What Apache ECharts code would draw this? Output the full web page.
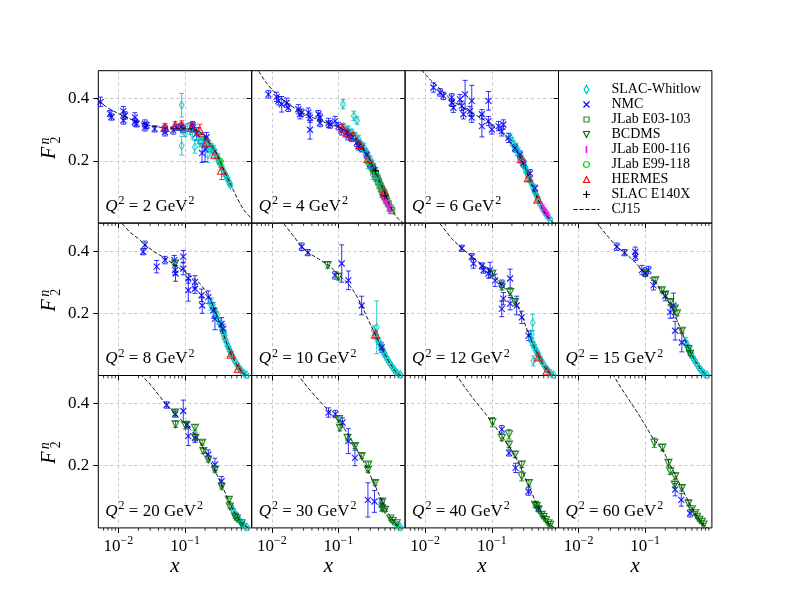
<!DOCTYPE html>
<html>
<head>
<meta charset="utf-8">
<title>F2n vs x</title>
<script src="https://cdn.jsdelivr.net/npm/echarts@6/dist/echarts.min.js"></script>
<style>
  html, body { margin: 0; padding: 0; background: #fff; }
  #chart { width: 790px; height: 593px; }
</style>
</head>
<body>
<div id="chart"></div>
<script>
// panels in reading order, slot 3 (top right) holds the legend
var q2List = [2, 4, 6, 8, 10, 12, 15, 20, 30, 40, 60];
var panelSlot = [0, 1, 2, 4, 5, 6, 7, 8, 9, 10, 11];
var xMajorTicks = [0.01, 0.1];
var xMinorTicks = [0.006, 0.007, 0.008, 0.009, 0.02, 0.03, 0.04, 0.05, 0.06, 0.07, 0.08, 0.09,
  0.2, 0.3, 0.4, 0.5, 0.6, 0.7, 0.8, 0.9];
var yMajorTicks = [0.2, 0.4];

// data rows: [Q2, x, F2n, error]
var slacWhitlow = [
  [2,0.089,0.379,0.038],[2,0.089,0.249,0.03],[2,0.09,0.3,0.01],[2,0.1,0.29,0.012],[2,0.11,0.31,0.01],
  [2,0.12,0.3,0.015],[2,0.13,0.285,0.015],[2,0.14,0.245,0.02],[2,0.15,0.295,0.012],[2,0.16,0.27,0.015],
  [2,0.167,0.26,0.015],[2,0.18,0.28,0.01],[2,0.19,0.258,0.012],[2,0.2,0.27,0.01],[2,0.21,0.25,0.012],
  [2,0.22,0.22,0.025],[2,0.23,0.255,0.01],[2,0.24,0.24,0.012],[2,0.25,0.245,0.01],[2,0.26,0.232,0.01],
  [2,0.27,0.238,0.012],[2,0.28,0.225,0.008],[2,0.3,0.215,0.008],[2,0.31,0.212,0.01],[2,0.32,0.2,0.008],
  [2,0.33,0.198,0.01],[2,0.34,0.188,0.008],[2,0.36,0.178,0.008],[2,0.38,0.166,0.007],[2,0.4,0.157,0.007],
  [2,0.42,0.148,0.007],[2,0.44,0.14,0.006],[2,0.46,0.13,0.006],[2,0.48,0.122,0.006],
  [4,0.117,0.382,0.015],[4,0.17,0.345,0.015],[4,0.19,0.33,0.012],[4,0.12,0.31,0.01],[4,0.13,0.298,0.01],
  [4,0.14,0.3,0.012],[4,0.15,0.285,0.01],[4,0.16,0.29,0.012],[4,0.17,0.275,0.01],[4,0.18,0.28,0.01],
  [4,0.19,0.265,0.01],[4,0.2,0.27,0.012],[4,0.21,0.255,0.01],[4,0.22,0.25,0.01],[4,0.23,0.24,0.01],
  [4,0.24,0.245,0.012],[4,0.25,0.228,0.01],[4,0.26,0.23,0.01],[4,0.27,0.215,0.012],[4,0.28,0.215,0.01],
  [4,0.29,0.2,0.01],[4,0.3,0.205,0.01],[4,0.31,0.19,0.01],[4,0.32,0.19,0.012],[4,0.33,0.175,0.01],
  [4,0.34,0.18,0.012],[4,0.35,0.168,0.01],[4,0.37,0.16,0.01],[4,0.39,0.145,0.01],[4,0.41,0.138,0.008],
  [4,0.43,0.125,0.008],[4,0.45,0.118,0.008],[4,0.47,0.108,0.007],[4,0.5,0.098,0.007],[4,0.53,0.085,0.006],
  [4,0.28,0.19,0.015],[4,0.33,0.155,0.015],[4,0.36,0.145,0.012],
  [6,0.19,0.275,0.012],[6,0.2,0.262,0.012],[6,0.21,0.255,0.01],[6,0.22,0.24,0.01],[6,0.23,0.245,0.012],
  [6,0.24,0.228,0.01],[6,0.25,0.23,0.012],[6,0.26,0.215,0.01],[6,0.27,0.212,0.01],[6,0.28,0.2,0.01],
  [6,0.29,0.2,0.01],[6,0.3,0.188,0.01],[6,0.31,0.185,0.01],[6,0.32,0.172,0.01],[6,0.33,0.17,0.01],
  [6,0.34,0.158,0.01],[6,0.35,0.155,0.01],[6,0.37,0.14,0.01],[6,0.39,0.13,0.008],[6,0.41,0.118,0.008],
  [6,0.43,0.105,0.008],[6,0.45,0.097,0.007],[6,0.47,0.088,0.007],[6,0.5,0.075,0.006],[6,0.53,0.062,0.006],
  [6,0.56,0.052,0.005],[6,0.6,0.04,0.005],[6,0.65,0.028,0.004],[6,0.7,0.02,0.004],[6,0.75,0.012,0.003],
  [8,0.24,0.23,0.02],[8,0.25,0.232,0.015],[8,0.27,0.215,0.012],[8,0.29,0.2,0.012],[8,0.3,0.195,0.01],
  [8,0.32,0.175,0.01],[8,0.34,0.165,0.01],[8,0.35,0.16,0.012],[8,0.36,0.145,0.01],[8,0.38,0.128,0.012],
  [8,0.39,0.135,0.012],[8,0.4,0.118,0.01],[8,0.42,0.105,0.01],[8,0.44,0.094,0.008],[8,0.46,0.085,0.008],
  [8,0.48,0.075,0.008],[8,0.5,0.068,0.007],[8,0.53,0.056,0.006],[8,0.56,0.046,0.006],[8,0.6,0.036,0.005],
  [8,0.64,0.026,0.005],[8,0.68,0.018,0.004],[8,0.72,0.012,0.004],[8,0.78,0.006,0.003],[8,0.85,0.002,0.002],
  [10,0.375,0.155,0.085],[10,0.34,0.145,0.015],[10,0.36,0.13,0.012],[10,0.38,0.12,0.012],[10,0.4,0.11,0.01],
  [10,0.42,0.1,0.01],[10,0.44,0.09,0.01],[10,0.46,0.082,0.008],[10,0.48,0.074,0.008],[10,0.5,0.066,0.007],
  [10,0.53,0.056,0.006],[10,0.56,0.047,0.006],[10,0.6,0.037,0.005],[10,0.64,0.028,0.005],[10,0.68,0.02,0.004],
  [10,0.72,0.013,0.004],[10,0.78,0.007,0.003],[10,0.85,0.003,0.002],
  [12,0.41,0.17,0.027],[12,0.397,0.133,0.012],[12,0.42,0.047,0.016],[12,0.38,0.12,0.012],[12,0.4,0.108,0.012],
  [12,0.42,0.098,0.01],[12,0.44,0.09,0.01],[12,0.46,0.08,0.008],[12,0.48,0.073,0.008],[12,0.5,0.065,0.007],
  [12,0.53,0.055,0.006],[12,0.56,0.045,0.006],[12,0.6,0.035,0.005],[12,0.64,0.026,0.005],[12,0.68,0.018,0.004],
  [12,0.72,0.012,0.004],[12,0.78,0.006,0.003],[12,0.85,0.002,0.002],
  [15,0.4,0.11,0.012],[15,0.42,0.1,0.01],[15,0.44,0.09,0.01],[15,0.46,0.08,0.01],[15,0.48,0.072,0.008],
  [15,0.5,0.064,0.008],[15,0.53,0.054,0.006],[15,0.56,0.045,0.006],[15,0.6,0.035,0.005],[15,0.64,0.026,0.005],
  [15,0.68,0.018,0.004],[15,0.72,0.012,0.004],[15,0.78,0.006,0.003],[15,0.85,0.002,0.002],
  [20,0.5,0.066,0.006],[20,0.53,0.056,0.006],[20,0.56,0.046,0.005],[20,0.6,0.036,0.005],[20,0.64,0.027,0.004],
  [20,0.68,0.019,0.004],[20,0.72,0.012,0.003],[20,0.78,0.007,0.003],[20,0.85,0.003,0.002],
  [30,0.72,0.013,0.003],[30,0.78,0.007,0.003],[30,0.85,0.003,0.002]
];
var nmc = [
  [2,0.0054,0.39,0.015],[2,0.0075,0.352,0.01],[2,0.0079,0.341,0.01],[2,0.0119,0.36,0.015],[2,0.0119,0.33,0.012],
  [2,0.0126,0.346,0.012],[2,0.0177,0.34,0.015],[2,0.0177,0.325,0.012],[2,0.0188,0.319,0.01],[2,0.025,0.32,0.012],
  [2,0.025,0.308,0.012],[2,0.0265,0.314,0.01],[2,0.035,0.303,0.01],[2,0.05,0.303,0.012],[2,0.05,0.292,0.012],
  [2,0.0666,0.298,0.012],[2,0.0748,0.308,0.01],[2,0.088,0.31,0.012],[2,0.094,0.303,0.012],[2,0.13,0.315,0.012],
  [2,0.133,0.308,0.01],[2,0.149,0.287,0.02],[2,0.18,0.225,0.03],[2,0.2,0.238,0.04],[2,0.21,0.276,0.015],
  [4,0.0089,0.414,0.012],[4,0.0118,0.406,0.015],[4,0.0126,0.393,0.013],[4,0.0141,0.382,0.025],[4,0.0167,0.387,0.015],
  [4,0.0177,0.371,0.012],[4,0.025,0.366,0.015],[4,0.0265,0.35,0.015],[4,0.028,0.355,0.012],[4,0.0354,0.355,0.015],
  [4,0.0375,0.339,0.015],[4,0.0375,0.3,0.03],[4,0.05,0.35,0.012],[4,0.053,0.339,0.012],[4,0.053,0.322,0.012],
  [4,0.071,0.322,0.015],[4,0.075,0.317,0.012],[4,0.089,0.328,0.015],[4,0.1,0.312,0.012],[4,0.112,0.295,0.012],
  [4,0.133,0.29,0.012],[4,0.141,0.279,0.012],[4,0.158,0.274,0.012],[4,0.188,0.258,0.012],[4,0.2,0.247,0.012],
  [4,0.223,0.241,0.012],[4,0.265,0.22,0.012],[4,0.3,0.19,0.012],[4,0.33,0.175,0.01],
  [6,0.0133,0.436,0.015],[6,0.0167,0.42,0.012],[6,0.0188,0.409,0.012],[6,0.025,0.404,0.012],[6,0.025,0.387,0.012],
  [6,0.0265,0.371,0.015],[6,0.0333,0.398,0.015],[6,0.0354,0.377,0.015],[6,0.0375,0.35,0.015],[6,0.0397,0.414,0.045],
  [6,0.047,0.36,0.015],[6,0.05,0.393,0.05],[6,0.05,0.339,0.015],[6,0.071,0.35,0.015],[6,0.071,0.312,0.035],
  [6,0.089,0.393,0.03],[6,0.089,0.328,0.015],[6,0.1,0.301,0.015],[6,0.126,0.312,0.015],[6,0.141,0.295,0.015],
  [6,0.149,0.317,0.015],[6,0.177,0.274,0.015],[6,0.223,0.241,0.012],[6,0.265,0.22,0.012],[6,0.297,0.193,0.012],
  [6,0.375,0.16,0.012],[6,0.445,0.112,0.01],
  [8,0.025,0.42,0.012],[8,0.0236,0.398,0.01],[8,0.0375,0.35,0.02],[8,0.05,0.371,0.012],[8,0.069,0.371,0.015],
  [8,0.071,0.339,0.015],[8,0.072,0.328,0.025],[8,0.094,0.382,0.02],[8,0.094,0.344,0.02],[8,0.112,0.312,0.015],
  [8,0.112,0.274,0.035],[8,0.141,0.301,0.02],[8,0.141,0.279,0.015],[8,0.177,0.258,0.02],[8,0.181,0.225,0.025],
  [8,0.223,0.252,0.02],[8,0.265,0.209,0.025],[8,0.281,0.182,0.035],[8,0.354,0.166,0.02],[8,0.375,0.15,0.015],
  [10,0.0281,0.414,0.012],[10,0.0347,0.395,0.01],[10,0.089,0.322,0.012],[10,0.112,0.36,0.06],[10,0.141,0.306,0.03],
  [10,0.223,0.225,0.03],[10,0.445,0.09,0.015],
  [12,0.0354,0.409,0.01],[12,0.05,0.382,0.01],[12,0.053,0.36,0.015],[12,0.071,0.352,0.01],[12,0.075,0.339,0.01],
  [12,0.089,0.328,0.015],[12,0.094,0.339,0.025],[12,0.112,0.306,0.02],[12,0.141,0.295,0.012],[12,0.141,0.214,0.025],
  [12,0.149,0.247,0.02],[12,0.188,0.312,0.03],[12,0.188,0.231,0.02],[12,0.236,0.225,0.03],[12,0.281,0.187,0.02],
  [12,0.354,0.128,0.015],
  [15,0.0375,0.414,0.012],[15,0.049,0.395,0.01],[15,0.071,0.398,0.015],[15,0.071,0.382,0.012],[15,0.089,0.339,0.015],
  [15,0.1,0.33,0.012],[15,0.112,0.339,0.012],[15,0.133,0.29,0.015],[15,0.2,0.255,0.015],[15,0.237,0.204,0.02],
  [15,0.265,0.225,0.04],[15,0.281,0.144,0.03],[15,0.354,0.106,0.03],
  [20,0.053,0.395,0.01],[20,0.071,0.366,0.01],[20,0.094,0.376,0.035],[20,0.108,0.333,0.01],[20,0.112,0.295,0.03],
  [20,0.141,0.29,0.015],[20,0.223,0.236,0.015],[20,0.281,0.204,0.02],[20,0.354,0.15,0.015],
  [30,0.071,0.371,0.015],[30,0.09,0.366,0.012],[30,0.115,0.339,0.015],[30,0.141,0.279,0.04],[30,0.177,0.225,0.025],
  [30,0.277,0.09,0.055],[30,0.347,0.085,0.035],[30,0.445,0.074,0.02],
  [40,0.141,0.317,0.012],[40,0.181,0.241,0.01],[40,0.227,0.193,0.015],[40,0.354,0.117,0.012],[40,0.5,0.063,0.008],
  [60,0.281,0.123,0.02],[60,0.347,0.09,0.02],[60,0.47,0.047,0.012]
];
var jlabE03103 = [
  [4,0.32,0.18,0.008],[4,0.34,0.168,0.008],[4,0.36,0.158,0.008],[4,0.38,0.145,0.007],[4,0.4,0.132,0.007],
  [4,0.42,0.12,0.007],[4,0.44,0.11,0.006],[4,0.46,0.1,0.006],[4,0.48,0.092,0.006],[4,0.5,0.085,0.005],
  [4,0.53,0.072,0.005],[4,0.56,0.062,0.005],[4,0.6,0.048,0.004],[4,0.63,0.04,0.004]
];
var bcdms = [
  [8,0.071,0.36,0.01],
  [10,0.069,0.355,0.01],[10,0.1,0.317,0.01],
  [12,0.102,0.328,0.008],[12,0.141,0.285,0.01],[12,0.188,0.268,0.01],[12,0.223,0.236,0.01],
  [15,0.1,0.328,0.008],[15,0.141,0.306,0.008],[15,0.177,0.274,0.008],[15,0.2,0.26,0.008],[15,0.237,0.236,0.008],
  [15,0.277,0.215,0.008],[15,0.3,0.2,0.008],[15,0.354,0.144,0.008],[15,0.445,0.085,0.006],[15,0.47,0.07,0.006],
  [20,0.071,0.371,0.01],[20,0.072,0.333,0.01],[20,0.102,0.328,0.01],[20,0.141,0.322,0.01],[20,0.143,0.29,0.01],
  [20,0.181,0.274,0.008],[20,0.188,0.247,0.008],[20,0.223,0.22,0.008],[20,0.281,0.187,0.008],[20,0.354,0.133,0.008],
  [20,0.455,0.09,0.006],[20,0.47,0.069,0.006],[20,0.562,0.036,0.005],[20,0.6,0.03,0.005],[20,0.707,0.015,0.004],
  [30,0.102,0.35,0.01],[30,0.105,0.322,0.01],[30,0.137,0.29,0.01],[30,0.177,0.263,0.008],[30,0.223,0.231,0.008],
  [30,0.281,0.204,0.008],[30,0.277,0.187,0.008],[30,0.354,0.144,0.008],[30,0.455,0.085,0.006],[30,0.455,0.063,0.006],
  [30,0.5,0.058,0.006],[30,0.6,0.03,0.005],[30,0.65,0.022,0.005],[30,0.75,0.015,0.004],
  [40,0.102,0.34,0.015],[40,0.141,0.29,0.01],[40,0.181,0.301,0.015],[40,0.181,0.268,0.01],[40,0.223,0.236,0.01],
  [40,0.281,0.204,0.01],[40,0.281,0.166,0.015],[40,0.36,0.144,0.01],[40,0.445,0.074,0.008],[40,0.47,0.07,0.006],
  [40,0.5,0.058,0.006],[40,0.562,0.042,0.006],[40,0.6,0.035,0.005],[40,0.65,0.025,0.005],[40,0.707,0.015,0.005],
  [40,0.75,0.01,0.004],
  [60,0.137,0.274,0.015],[60,0.181,0.258,0.01],[60,0.223,0.209,0.01],[60,0.237,0.182,0.01],[60,0.281,0.166,0.01],
  [60,0.277,0.139,0.01],[60,0.354,0.128,0.01],[60,0.445,0.079,0.008],[60,0.5,0.06,0.006],[60,0.562,0.047,0.006],
  [60,0.6,0.036,0.005],[60,0.65,0.026,0.005],[60,0.707,0.02,0.005],[60,0.75,0.011,0.004]
];
var jlabE00116 = [
  [4,0.45,0.09,0.008],[4,0.48,0.082,0.008],[4,0.5,0.076,0.007],[4,0.53,0.068,0.007],[4,0.56,0.058,0.006],
  [4,0.6,0.046,0.006],
  [6,0.58,0.05,0.008],[6,0.61,0.042,0.007],[6,0.64,0.036,0.007],[6,0.67,0.03,0.006],[6,0.7,0.024,0.006]
];
var jlabE99118 = [
  [2,0.335,0.198,0.01],[4,0.29,0.195,0.01]
];
var hermes = [
  [2,0.05,0.308,0.012],[2,0.071,0.314,0.012],[2,0.089,0.314,0.015],[2,0.126,0.308,0.015],[2,0.167,0.298,0.02],
  [2,0.21,0.26,0.015],[2,0.28,0.222,0.015],[2,0.353,0.17,0.03],
  [4,0.115,0.306,0.01],[4,0.135,0.29,0.01],[4,0.167,0.281,0.01],[4,0.21,0.252,0.01],[4,0.277,0.207,0.01],
  [4,0.49,0.1,0.008],
  [6,0.277,0.207,0.01],[6,0.354,0.146,0.01],[6,0.49,0.077,0.008],
  [8,0.49,0.069,0.008],[8,0.63,0.023,0.005],
  [10,0.36,0.133,0.01],
  [12,0.5,0.06,0.008],[12,0.67,0.015,0.005]
];
var slacE140X = [
  [4,0.36,0.168,0.01],[4,0.5,0.088,0.008]
];
// CJ15 curve rows: [Q2, x, F2n]
var cj15 = [
  [2,0.005,0.392],[2,0.007,0.37],[2,0.01,0.352],[2,0.015,0.335],[2,0.02,0.325],[2,0.03,0.313],[2,0.05,0.306],
  [2,0.07,0.305],[2,0.1,0.305],[2,0.13,0.302],[2,0.17,0.292],[2,0.21,0.27],[2,0.25,0.25],[2,0.3,0.222],
  [2,0.35,0.19],[2,0.42,0.152],[2,0.5,0.118],[2,0.6,0.082],[2,0.7,0.055],[2,0.8,0.036],[2,0.9,0.024],[2,1.0,0.016],
  [4,0.005,0.52],[4,0.0065,0.485],[4,0.008,0.455],[4,0.01,0.43],[4,0.013,0.405],[4,0.016,0.39],[4,0.02,0.375],
  [4,0.028,0.356],[4,0.04,0.34],[4,0.05,0.332],[4,0.07,0.32],[4,0.1,0.31],[4,0.13,0.297],[4,0.16,0.282],
  [4,0.2,0.262],[4,0.25,0.233],[4,0.3,0.2],[4,0.36,0.166],[4,0.42,0.132],[4,0.49,0.1],[4,0.56,0.07],
  [4,0.63,0.045],[4,0.7,0.028],[4,0.8,0.012],[4,0.9,0.003],[4,1.0,-0.005],
  [6,0.008,0.51],[6,0.0094,0.485],[6,0.012,0.46],[6,0.0141,0.447],[6,0.018,0.425],[6,0.025,0.395],[6,0.035,0.375],
  [6,0.045,0.36],[6,0.06,0.345],[6,0.08,0.33],[6,0.1,0.316],[6,0.125,0.3],[6,0.15,0.285],[6,0.18,0.265],
  [6,0.21,0.248],[6,0.25,0.222],[6,0.28,0.204],[6,0.32,0.177],[6,0.36,0.148],[6,0.42,0.11],[6,0.49,0.077],
  [6,0.56,0.05],[6,0.63,0.03],[6,0.7,0.018],[6,0.8,0.005],[6,0.9,-0.005],
  [8,0.009,0.52],[8,0.0112,0.49],[8,0.015,0.46],[8,0.02,0.44],[8,0.025,0.42],[8,0.035,0.397],[8,0.05,0.377],
  [8,0.07,0.355],[8,0.1,0.333],[8,0.13,0.315],[8,0.16,0.3],[8,0.2,0.275],[8,0.24,0.245],[8,0.28,0.21],
  [8,0.32,0.178],[8,0.36,0.145],[8,0.42,0.105],[8,0.49,0.07],[8,0.56,0.045],[8,0.63,0.026],[8,0.7,0.012],
  [8,0.8,0.002],[8,0.9,-0.005],
  [10,0.012,0.52],[10,0.0149,0.49],[10,0.02,0.455],[10,0.028,0.414],[10,0.0354,0.395],[10,0.05,0.375],
  [10,0.071,0.355],[10,0.1,0.325],[10,0.141,0.295],[10,0.177,0.265],[10,0.223,0.225],[10,0.281,0.178],
  [10,0.354,0.133],[10,0.445,0.088],[10,0.562,0.047],[10,0.707,0.015],[10,0.84,0.0],[10,0.95,-0.006],
  [12,0.013,0.52],[12,0.0164,0.49],[12,0.025,0.44],[12,0.0354,0.409],[12,0.05,0.382],[12,0.07,0.358],
  [12,0.102,0.328],[12,0.141,0.29],[12,0.188,0.263],[12,0.236,0.231],[12,0.281,0.195],[12,0.354,0.135],
  [12,0.446,0.085],[12,0.5,0.062],[12,0.562,0.042],[12,0.67,0.015],[12,0.84,0.0],[12,0.95,-0.006],
  [15,0.015,0.53],[15,0.0188,0.49],[15,0.028,0.445],[15,0.0375,0.414],[15,0.05,0.393],[15,0.07,0.365],
  [15,0.1,0.328],[15,0.141,0.3],[15,0.177,0.272],[15,0.237,0.23],[15,0.281,0.193],[15,0.354,0.14],
  [15,0.446,0.088],[15,0.562,0.046],[15,0.707,0.015],[15,0.84,0.0],[15,0.95,-0.006],
  [20,0.018,0.53],[20,0.0224,0.49],[20,0.03,0.462],[20,0.04,0.428],[20,0.053,0.395],[20,0.071,0.366],
  [20,0.102,0.333],[20,0.141,0.3],[20,0.188,0.258],[20,0.223,0.228],[20,0.281,0.185],[20,0.354,0.138],
  [20,0.446,0.09],[20,0.562,0.047],[20,0.707,0.015],[20,0.89,0.0],[20,0.95,-0.005],
  [30,0.02,0.53],[30,0.025,0.49],[30,0.035,0.45],[30,0.05,0.412],[30,0.071,0.377],[30,0.1,0.344],
  [30,0.141,0.3],[30,0.177,0.263],[30,0.223,0.225],[30,0.281,0.182],[30,0.354,0.137],[30,0.446,0.088],
  [30,0.562,0.046],[30,0.707,0.015],[30,0.84,0.0],[30,0.95,-0.006],
  [40,0.024,0.53],[40,0.0298,0.49],[40,0.04,0.45],[40,0.055,0.41],[40,0.075,0.375],[40,0.102,0.339],
  [40,0.141,0.295],[40,0.181,0.263],[40,0.223,0.231],[40,0.281,0.187],[40,0.36,0.133],[40,0.446,0.088],
  [40,0.562,0.046],[40,0.707,0.015],[40,0.87,0.0],[40,0.95,-0.004],
  [60,0.027,0.53],[60,0.0333,0.49],[60,0.045,0.445],[60,0.06,0.405],[60,0.079,0.366],[60,0.1,0.33],
  [60,0.133,0.285],[60,0.181,0.252],[60,0.223,0.214],[60,0.281,0.171],[60,0.354,0.128],[60,0.446,0.085],
  [60,0.562,0.046],[60,0.707,0.015],[60,0.84,0.0],[60,0.95,-0.005]
];

var SERIF = '"Liberation Serif", "DejaVu Serif", serif';
var colLeft = [98.3, 251.7, 405.1, 558.5], rowTop = [70.7, 223.1, 375.5];
var pw = 153.4, ph = 152.4;

// how each experiment is drawn
var sets = [
  {name: 'SLAC-Whitlow', rows: slacWhitlow, color: '#00bfbf', symbol: 'diamond', size: [5, 8], rotate: 0, fill: 'none', lw: 1,
    icon: 'M13,0L15.5,4L13,8L10.5,4Z'},
  {name: 'NMC', rows: nmc, color: '#0000ff', symbol: 'path://M0,0L10,10M10,0L0,10', size: 6, rotate: 0, fill: 'none', lw: 1.2,
    icon: 'M10,1L16,7M16,1L10,7'},
  {name: 'JLab E03-103', rows: jlabE03103, color: '#2e8b2e', symbol: 'rect', size: 6, rotate: 0, fill: 'none', lw: 1.1,
    icon: 'M10.5,1.5L15.5,1.5L15.5,6.5L10.5,6.5Z'},
  {name: 'BCDMS', rows: bcdms, color: '#007000', symbol: 'triangle', size: 7, rotate: 180, fill: 'none', lw: 1.1,
    icon: 'M10,1L16,1L13,7Z'},
  {name: 'JLab E00-116', rows: jlabE00116, color: '#ff00ff', symbol: 'rect', size: [1.4, 8], rotate: 0, fill: '#ff00ff', lw: 0,
    icon: 'M13,0.5L13,7.5'},
  {name: 'JLab E99-118', rows: jlabE99118, color: '#00e000', symbol: 'circle', size: 6, rotate: 0, fill: 'none', lw: 1.1,
    icon: 'M16,4A3,3,0,1,1,10,4A3,3,0,1,1,16,4Z'},
  {name: 'HERMES', rows: hermes, color: '#ff0000', symbol: 'triangle', size: 8, rotate: 0, fill: 'none', lw: 1.2,
    icon: 'M10,7L16,7L13,1Z'},
  {name: 'SLAC E140X', rows: slacE140X, color: '#000000', symbol: 'path://M5,0L5,10M0,5L10,5', size: 7, rotate: 0, fill: 'none', lw: 1.1,
    icon: 'M13,0.5L13,7.5M9.5,4L16.5,4'}
];
// keeps legend icons at marker size inside the 26x8 legend box
var ICON_BOX = 'M0,0L0.01,0M26,8L25.99,8';

function pick(rows, q) {
  return rows.filter(function (r) { return r[0] === q; }).map(function (r) { return r.slice(1); });
}

function errorBarItem(color) {
  return function (params, api) {
    var x = api.value(0), y = api.value(1), e = api.value(2);
    var hi = api.coord([x, y + e]), lo = api.coord([x, y - e]);
    var cap = 2.5;
    var st = {stroke: color, lineWidth: 1, opacity: 0.8};
    return {type: 'group', children: [
      {type: 'line', shape: {x1: hi[0], y1: hi[1], x2: lo[0], y2: lo[1]}, style: st},
      {type: 'line', shape: {x1: hi[0] - cap, y1: hi[1], x2: hi[0] + cap, y2: hi[1]}, style: st},
      {type: 'line', shape: {x1: lo[0] - cap, y1: lo[1], x2: lo[0] + cap, y2: lo[1]}, style: st}
    ]};
  };
}

function minorTickItem(params, api) {
  var p = api.coord([api.value(0), 0]);
  return {type: 'line', shape: {x1: p[0], y1: p[1], x2: p[0], y2: p[1] + 2.8},
    style: {stroke: '#000', lineWidth: 0.8}};
}

// base text sits at the bottom of a 20px line, exponents at its top
var supRich = {
  b: {fontFamily: SERIF, fontSize: 17, height: 17, lineHeight: 20, verticalAlign: 'bottom', color: '#000'},
  e: {fontFamily: SERIF, fontSize: 12, height: 12, lineHeight: 20, verticalAlign: 'top', color: '#000'}
};
var q2Rich = {
  i: {fontFamily: SERIF, fontStyle: 'italic', fontSize: 17, height: 17, lineHeight: 20, verticalAlign: 'bottom', fill: '#000'},
  b: {fontFamily: SERIF, fontSize: 17, height: 17, lineHeight: 20, verticalAlign: 'bottom', fill: '#000'},
  e: {fontFamily: SERIF, fontSize: 12, height: 12, lineHeight: 20, verticalAlign: 'top', padding: [0, 0, 0, 1], fill: '#000'}
};

var grids = [], xAxes = [], yAxes = [], series = [], graphics = [];

for (var s = 0; s < 12; s++) {
  var r = Math.floor(s / 4), c = s % 4, isLegendBox = (s === 3);
  grids.push({left: colLeft[c], top: rowTop[r], width: pw, height: ph, show: true,
    borderColor: '#000', borderWidth: 1, backgroundColor: 'transparent'});
  xAxes.push({
    type: 'log', gridIndex: s, min: 0.005, max: 1,
    axisLine: {show: false},
    axisTick: {show: true, length: 5, customValues: xMajorTicks, lineStyle: {color: '#000', width: 1}},
    axisLabel: {show: r === 2, customValues: xMajorTicks, margin: 7,
      formatter: function (v) { return '{b|10}{e|\u2212' + Math.round(-Math.log10(v)) + '}'; },
      rich: supRich},
    splitLine: {show: !isLegendBox, lineStyle: {color: '#b8b8b8', width: 0.8, type: [3, 3]}},
    name: r === 2 ? 'x' : '', nameLocation: 'middle', nameGap: 28,
    nameTextStyle: {fontFamily: SERIF, fontStyle: 'italic', fontSize: 21, color: '#000'}
  });
  yAxes.push({
    type: 'value', gridIndex: s, min: 0, max: 0.49, interval: 0.2,
    axisLine: {show: false},
    axisTick: {show: true, length: 5, customValues: yMajorTicks, lineStyle: {color: '#000', width: 1}},
    axisLabel: {show: c === 0, customValues: yMajorTicks, margin: 9,
      formatter: function (v) { return v.toFixed(1); },
      fontFamily: SERIF, fontSize: 17, color: '#000'},
    splitLine: {show: !isLegendBox, lineStyle: {color: '#b8b8b8', width: 0.8, type: [3, 3]}}
  });
  series.push({type: 'custom', name: 'minor ticks', xAxisIndex: s, yAxisIndex: s, silent: true,
    data: xMinorTicks.map(function (v) { return [v, 0]; }), renderItem: minorTickItem});
}

q2List.forEach(function (q, i) {
  var s = panelSlot[i];
  sets.forEach(function (d) {
    var pts = pick(d.rows, q);
    if (!pts.length) return;
    series.push({type: 'custom', name: d.name + ' error', xAxisIndex: s, yAxisIndex: s, clip: true, silent: true,
      data: pts, renderItem: errorBarItem(d.color)});
    series.push({type: 'scatter', name: d.name, xAxisIndex: s, yAxisIndex: s, silent: true,
      data: pts.map(function (p) { return [p[0], p[1]]; }),
      symbol: d.symbol, symbolSize: d.size, symbolRotate: d.rotate,
      itemStyle: {color: d.fill, borderColor: d.color, borderWidth: d.lw, opacity: 0.85}});
  });
  series.push({type: 'line', name: 'CJ15', xAxisIndex: s, yAxisIndex: s, silent: true, clip: true,
    data: pick(cj15, q), symbol: 'none', showSymbol: false,
    itemStyle: {color: 'rgba(0,0,0,0)', borderWidth: 0},
    lineStyle: {color: '#000', width: 0.9, type: [4, 2]}});

  var r = Math.floor(s / 4), c = s % 4;
  graphics.push({type: 'text', left: colLeft[c] + 7, top: rowTop[r] + ph - 28, silent: true,
    style: {text: '{i|Q}{e|2}{b| = ' + q + ' GeV}{e|2}', fill: '#000', rich: q2Rich}});
});

// F_2^n labels on the left of each row
for (var row = 0; row < 3; row++) {
  graphics.push({type: 'group', x: 50, y: rowTop[row] + ph / 2, rotation: Math.PI / 2, silent: true, children: [
    {type: 'text', x: -6, y: 0, style: {text: 'F', font: 'italic 20px ' + SERIF, fill: '#000', align: 'center', verticalAlign: 'middle'}},
    {type: 'text', x: 6, y: -5, style: {text: 'n', font: 'italic 14px ' + SERIF, fill: '#000', align: 'center', verticalAlign: 'middle'}},
    {type: 'text', x: 7, y: 6, style: {text: '2', font: '14px ' + SERIF, fill: '#000', align: 'center', verticalAlign: 'middle'}}
  ]});
}

var legendData = sets.map(function (d) {
  var bar = d.name === 'JLab E00-116';
  return {name: d.name, icon: 'path://' + ICON_BOX + d.icon,
    itemStyle: {color: bar ? 'none' : d.fill, borderColor: d.color, borderWidth: bar ? 1.6 : 1.2, opacity: 1}};
});
legendData.push({name: 'CJ15', icon: 'path://M0,4L4,4M6,4L10,4M12,4L16,4M18,4L22,4M24,4L26,4M0,0L0.01,0M26,8L25.99,8',
  itemStyle: {color: 'none', borderColor: '#000', borderWidth: 1, opacity: 1}});

var chart = echarts.init(document.getElementById('chart'), null, {renderer: 'canvas'});
chart.setOption({
  animation: false,
  backgroundColor: '#fff',
  grid: grids,
  xAxis: xAxes,
  yAxis: yAxes,
  legend: {
    left: 571, top: 82, orient: 'vertical', padding: 0, itemGap: 0, itemWidth: 26, itemHeight: 8,
    selectedMode: false, data: legendData,
    textStyle: {fontFamily: SERIF, fontSize: 14, lineHeight: 15, color: '#000', padding: [0, 0, 0, 7]}
  },
  graphic: graphics,
  series: series
});
</script>
</body>
</html>
